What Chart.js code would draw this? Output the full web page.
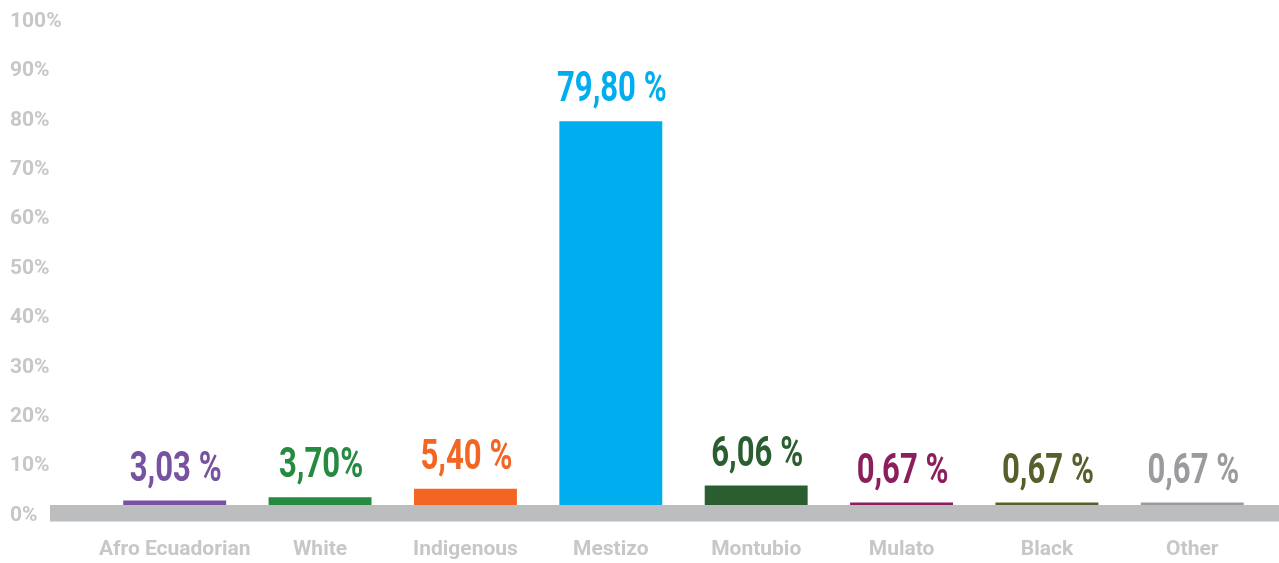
<!DOCTYPE html>
<html><head><meta charset="utf-8">
<script src="https://cdn.jsdelivr.net/npm/chart.js@4"></script>
<style>html,body{margin:0;padding:0;background:#fff;overflow:hidden}#wrap{width:1279px;height:563px}</style>
</head><body><div id="wrap"><canvas id="c" width="1279" height="563"></canvas></div>
<script>
const categories = ["Afro Ecuadorian", "White", "Indigenous", "Mestizo", "Montubio", "Mulato", "Black", "Other"];
const values = [3.03, 3.70, 5.40, 79.80, 6.06, 0.67, 0.67, 0.67];
const valueLabels = ["3,03 %", "3,70%", "5,40 %", "79,80 %", "6,06 %", "0,67 %", "0,67 %", "0,67 %"];
const barColors = ["#7652a0", "#268a41", "#f26522", "#00aeef", "#2a5e30", "#8b1f5e", "#56602a", "#9b9b9f"];
const yMin = 0, yMax = 100, yStep = 10;

const bandPlugin = {
  id: 'band',
  afterDatasetsDraw(chart) {
    const ctx = chart.ctx;
    const y0 = chart.scales.y.getPixelForValue(0);
    ctx.save();
    ctx.fillStyle = '#bcbdbf';
    ctx.fillRect(50, y0 - 10.5, chart.width - 50, 16.5);
    const meta = chart.getDatasetMeta(0);
    meta.data.forEach((bar, i) => {
      ctx.save();
      ctx.translate(bar.x + 1, bar.y - 20);
      ctx.scale(0.74, 1);
      ctx.font = 'bold 42px Roboto';
      ctx.textAlign = 'center';
      ctx.textBaseline = 'alphabetic';
      ctx.fillStyle = barColors[i];
      ctx.fillText(valueLabels[i], 0, 0);
      ctx.restore();
    });
    ctx.restore();
  }
};

new Chart(document.getElementById('c'), {
  type: 'bar',
  data: {
    labels: categories,
    datasets: [{ data: values, backgroundColor: barColors, borderWidth: 0,
      categoryPercentage: 1, barPercentage: 0.708, minBarLength: 13 }]
  },
  options: {
    responsive: false, animation: false, devicePixelRatio: 1,
    layout: { padding: { left: 10, right: 14, top: 21.5, bottom: 0 } },
    plugins: { legend: { display: false }, tooltip: { enabled: false } },
    scales: {
      x: {
        grid: { display: false, drawTicks: false }, border: { display: false },
        ticks: { color: '#c6c7c8', font: { family: 'Roboto', size: 21, weight: 'bold' }, padding: 22,
          maxRotation: 0, autoSkip: false },
        afterFit(s) { s.height = 47.5; }
      },
      y: {
        min: yMin, max: yMax,
        grid: { display: false, drawTicks: false }, border: { display: false },
        ticks: { stepSize: yStep, color: '#c6c7c8', crossAlign: 'far',
          font: { family: 'Roboto', size: 21, weight: 'bold' },
          callback: v => v + '%' },
        afterFit(s) { s.width = 92; }
      }
    }
  },
  plugins: [bandPlugin]
});
</script></body></html>
